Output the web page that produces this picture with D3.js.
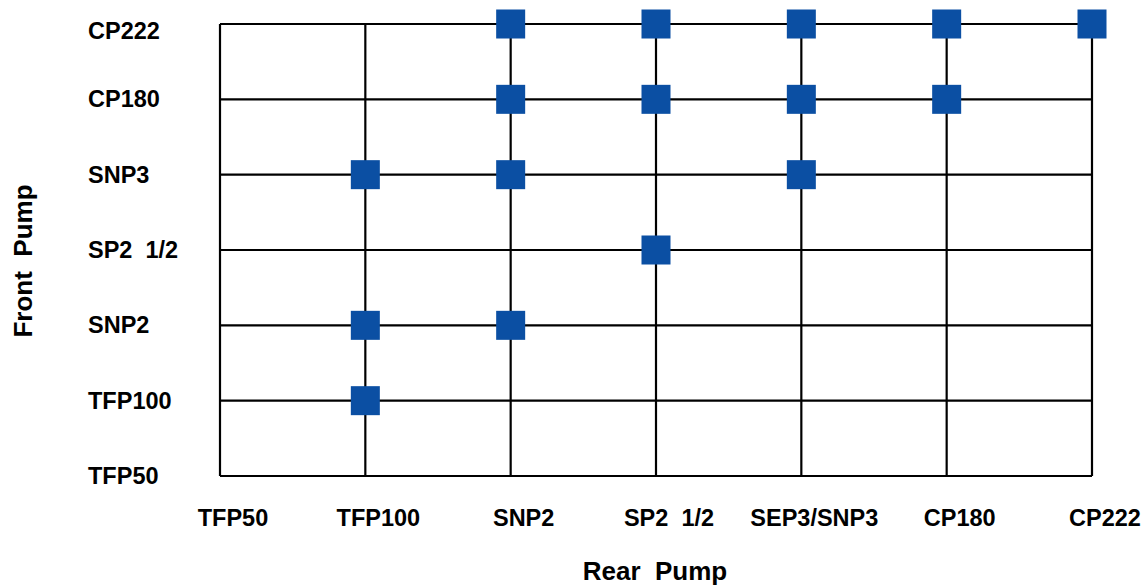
<!DOCTYPE html>
<html>
<head>
<meta charset="utf-8">
<script src="https://cdn.jsdelivr.net/npm/d3@7"></script>
<style>
  body { margin: 0; background: #fff; }
  text { font-family: "Liberation Sans", Arial, sans-serif; font-weight: bold; fill: #000; white-space: pre; }
</style>
</head>
<body>
<div id="chart"></div>
<script>
// pump categories, bottom/left to top/right
var rearPumps = ["TFP50", "TFP100", "SNP2", "SP2  1/2", "SEP3/SNP3", "CP180", "CP222"];
var frontPumps = ["TFP50", "TFP100", "SNP2", "SP2  1/2", "SNP3", "CP180", "CP222"];
// valid combinations [front, rear]
var combos = [
  ["CP222", "SNP2"], ["CP222", "SP2  1/2"], ["CP222", "SEP3/SNP3"], ["CP222", "CP180"], ["CP222", "CP222"],
  ["CP180", "SNP2"], ["CP180", "SP2  1/2"], ["CP180", "SEP3/SNP3"], ["CP180", "CP180"],
  ["SNP3", "TFP100"], ["SNP3", "SNP2"], ["SNP3", "SEP3/SNP3"],
  ["SP2  1/2", "SP2  1/2"],
  ["SNP2", "TFP100"], ["SNP2", "SNP2"],
  ["TFP100", "TFP100"]
];

var width = 1141, height = 587,
    plotLeft = 220, plotRight = 1092, plotTop = 24, plotBottom = 476,
    markSize = 29,
    markColor = "#0b4fa3";

var svg = d3.select("#chart").append("svg")
    .attr("width", width)
    .attr("height", height);

var x = d3.scalePoint().domain(rearPumps).range([plotLeft, plotRight]);
var y = d3.scalePoint().domain(frontPumps).range([plotBottom, plotTop]);

// grid lines (first ones double as the axes)
svg.selectAll(".vline")
    .data(rearPumps)
    .enter().append("line")
    .attr("x1", function(d) { return x(d); })
    .attr("x2", function(d) { return x(d); })
    .attr("y1", plotTop)
    .attr("y2", plotBottom)
    .attr("stroke", "#000")
    .attr("stroke-width", 2.2);

svg.selectAll(".hline")
    .data(frontPumps)
    .enter().append("line")
    .attr("x1", plotLeft)
    .attr("x2", plotRight)
    .attr("y1", function(d) { return y(d); })
    .attr("y2", function(d) { return y(d); })
    .attr("stroke", "#000")
    .attr("stroke-width", 2.2);

// markers
svg.selectAll(".mark")
    .data(combos)
    .enter().append("rect")
    .attr("x", function(d) { return x(d[1]) - markSize / 2; })
    .attr("y", function(d) { return y(d[0]) - markSize / 2; })
    .attr("width", markSize)
    .attr("height", markSize)
    .style("fill", markColor);

// tick labels
svg.selectAll(".xlab")
    .data(rearPumps)
    .enter().append("text")
    .text(function(d) { return d; })
    .attr("x", function(d) { return x(d) + 13; })
    .attr("y", 526)
    .attr("font-size", "23.5px")
    .style("text-anchor", "middle");

svg.selectAll(".ylab")
    .data(frontPumps)
    .enter().append("text")
    .text(function(d) { return d; })
    .attr("x", 88)
    .attr("y", function(d) { return Math.max(y(d), 31) + 8; })
    .attr("font-size", "23.5px")
    .style("text-anchor", "start");

// axis titles
svg.append("text").text("Rear  Pump")
    .attr("x", 655)
    .attr("y", 580)
    .attr("font-size", "26px")
    .style("text-anchor", "middle");

svg.append("text").text("Front  Pump")
    .attr("transform", "translate(32,261) rotate(-90)")
    .attr("font-size", "26px")
    .style("text-anchor", "middle");
</script>
</body>
</html>
